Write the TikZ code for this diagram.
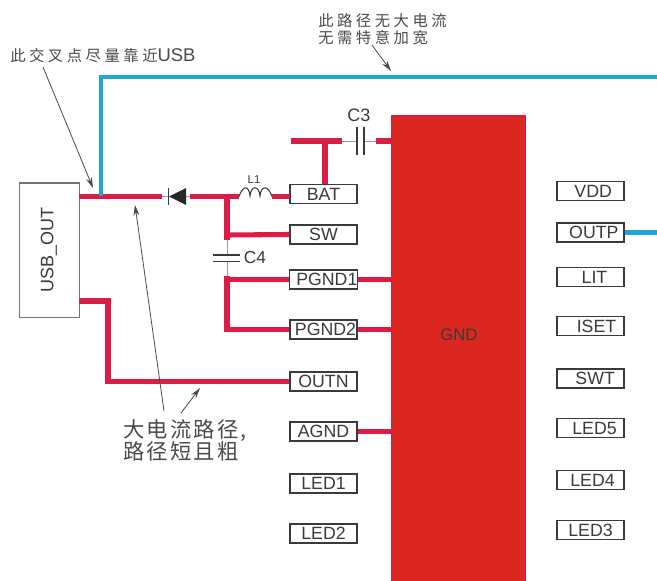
\documentclass[tikz,border=0pt]{standalone}
\usepackage{fontspec}
\setmainfont{Liberation Sans}
\newfontfamily\cjkf[LetterSpace=23]{Noto Sans CJK SC}
\newfontfamily\cjkg[LetterSpace=10]{Noto Sans CJK SC}
\usetikzlibrary{arrows.meta}
\definecolor{traceR}{HTML}{DC1C44}
\definecolor{traceB}{HTML}{1CA8D0}
\definecolor{chipF}{HTML}{DC2820}
\definecolor{ink}{HTML}{3A3A3A}
\definecolor{note}{HTML}{4A4A4A}
\tikzset{
  x=0.75pt,y=-0.75pt,
  pinbox/.style={draw=ink,line width=1.2pt,fill=white,minimum width=50pt,minimum height=14.4pt,inner sep=0pt,text=ink,font=\fontsize{13.3}{13}\selectfont},
  redtrace/.style={draw=traceR,line width=3.8pt},
  bluetrace/.style={draw=traceB,line width=3.2pt},
  lead/.style={draw=gray!80,line width=0.6pt},
  plate/.style={draw=ink,line width=0.9pt},
  arr/.style={draw=note,line width=0.6pt,-{Stealth[length=8pt,width=4.5pt]}},
  notes/.style={text=note,inner sep=0pt,align=left,anchor=west},
  lbl/.style={text=ink,inner sep=0pt},
}
\begin{document}
\begin{tikzpicture}
\useasboundingbox (0,0) rectangle (657,581);
\fill[white] (0,0) rectangle (657,581);
% chip
\node[draw=traceR,fill=chipF,line width=1pt,minimum width=100.5pt,minimum height=352pt,inner sep=0pt,anchor=north west,text=ink] (chip) at (391,115.5) {};
\node[lbl,font=\fontsize{12.5}{13}\selectfont] (gnd) at (459,335) {GND};
% usb box
\node[draw=gray!90!black,fill=white,line width=0.8pt,minimum width=45.5pt,minimum height=100.5pt,inner sep=0pt,anchor=north west] (usb) at (18.5,182.5) {};
\node[lbl,rotate=90,font=\fontsize{13.5}{14}\selectfont] (usbtxt) at (49,250) {USB\_OUT};
% left pins
\node[pinbox] (bat) at (323.5,194) {BAT};
\node[pinbox] (sw) at (323.5,234.5) {SW};
\node[pinbox] (pgnda) at (323.5,279.5) {\hspace{5pt}PGND1};
\node[pinbox] (pgndb) at (323.5,329.5) {\hspace{3pt}PGND2};
\node[pinbox] (outn) at (323.5,381.5) {OUTN};
\node[pinbox] (agnd) at (323.5,431.5) {AGND};
\node[pinbox] (leda) at (323.5,483.5) {LED1};
\node[pinbox] (ledb) at (323.5,533.5) {LED2};
% right pins
\node[pinbox] (vdd) at (590.5,191) {\hspace{4pt}VDD};
\node[pinbox] (outp) at (590.5,232.5) {\hspace{5pt}OUTP};
\node[pinbox] (lit) at (590.5,277) {\hspace{6pt}LIT};
\node[pinbox] (iset) at (590.5,326) {\hspace{9pt}ISET};
\node[pinbox] (swt) at (590.5,378.5) {\hspace{7pt}SWT};
\node[pinbox] (ledf) at (590.5,428) {\hspace{6pt}LED5};
\node[pinbox] (lede) at (590.5,480) {\hspace{3pt}LED4};
\node[pinbox] (ledd) at (590.5,530) {LED3};
% junctions
\coordinate (usbp) at (79,196.5);
\coordinate (cross) at (101,196.5);
\coordinate (bluea) at (101,77);
\coordinate (blueb) at (657,77);
\coordinate (blueend) at (657,232.5);
\coordinate (da) at (162,196.5);
\coordinate (dcath) at (168.5,196.5);
\coordinate (dtip) at (169,196.5);
\coordinate (dbase) at (186,196.5);
\coordinate (db) at (190,196.5);
\coordinate (ja) at (227,196.5);
\coordinate (la) at (239,196.5);
\coordinate (lb) at (272,196.5);
\coordinate (lc) at (290,196.5);
\coordinate (jb) at (227,235);
\coordinate (ca) at (227,240);
\coordinate (cp) at (227,255);
\coordinate (cq) at (227,261);
\coordinate (cb) at (227,276);
\coordinate (jc) at (227,279.5);
\coordinate (jd) at (227,329.5);
\coordinate (tl) at (291,141);
\coordinate (tj) at (325,141);
\coordinate (tm) at (342,141);
\coordinate (cl) at (357,141);
\coordinate (cr) at (364,141);
\coordinate (tn) at (376,141);
\coordinate (ua) at (108,301);
\coordinate (ub) at (79,301);
\coordinate (uc) at (108,381.5);
% red traces
\draw[redtrace] (usbp) -- (da);
\draw[redtrace] (db) -- (la);
\draw[redtrace] (lb) -- (lc);
\draw[redtrace] (ja) -- (ca);
\draw[redtrace] (jb) -- (sw.west);
\draw[redtrace] (cb) -- (jd) -- (pgndb.west);
\draw[redtrace] (jc) -- (pgnda.west);
\draw[redtrace] (pgnda.east) -- (pgnda.east -| chip.west);
\draw[redtrace] (pgndb.east) -- (pgndb.east -| chip.west);
\draw[redtrace] (agnd.east) -- (agnd.east -| chip.west);
\draw[redtrace] (tl) -- (tm);
\draw[redtrace] (tj) -- (tj |- bat.north);
\draw[redtrace] (tn) -- (tn -| chip.west);
\draw[redtrace] (ub) -- (ua) -- (uc) -- (outn.west);
% blue traces
\draw[bluetrace] (cross) -- (bluea) -- (blueb);
\draw[bluetrace] (outp.east) -- (blueend);
% diode
\draw[lead] (da) -- (dcath);
\draw[lead] (dbase) -- (db);
\draw[plate] (168.5,188) -- (168.5,205);
\fill[black!85] (dtip) -- (186,188) -- (186,205) -- cycle;
% inductor
\draw[ink,line width=0.8pt] (la) .. controls (243,185) and (249,185) .. (250,196)
  .. controls (251,185) and (259,185) .. (260,196)
  .. controls (261,185) and (268,185) .. (lb);
\node[lbl,font=\fontsize{8.5}{9}\selectfont] (lone) at (254,180) {L1};
% C4
\draw[lead] (ca) -- (cp);
\draw[lead] (cq) -- (cb);
\draw[plate] (213,255) -- (240,255);
\draw[plate] (213,261.5) -- (240,261.5);
\node[lbl,font=\fontsize{13}{14}\selectfont] (cfour) at (255,257.5) {C4};
% C3
\draw[lead] (tm) -- (cl);
\draw[lead] (cr) -- (tn);
\draw[plate] (cl) ++(0,-14) -- ++(0,28);
\draw[plate] (cr) ++(0,-14) -- ++(0,28);
\node[lbl,font=\fontsize{13.5}{14}\selectfont] (cthree) at (359,115) {C3};
% notes
\node[notes,font=\fontsize{11.5}{11.5}\selectfont] (noteA) at (10,56) {{\cjkf 此交叉点尽量靠近}\fontsize{13.8}{14}\selectfont USB};
\node[notes,font=\fontsize{11.5}{13}\selectfont] (noteB) at (318,29.5) {{\cjkf 此路径无大电流}\\{\cjkf 无需特意加宽}};
\node[notes,font=\fontsize{16}{16.5}\selectfont] (noteC) at (123,440) {{\cjkg 大电流路径,}\\{\cjkg 路径短且粗}};
\coordinate (aA) at (43,67);
\coordinate (bA) at (93,188);
\coordinate (aB) at (372,45);
\coordinate (bB) at (391,71);
\coordinate (aC) at (164,411);
\coordinate (bC) at (135,205);
\coordinate (aD) at (181,413);
\coordinate (bD) at (200,388);
\draw[arr] (aA) -- (bA);
\draw[arr] (aB) -- (bB);
\draw[arr] (aC) -- (bC);
\draw[arr] (aD) -- (bD);
\end{tikzpicture}
\end{document}
